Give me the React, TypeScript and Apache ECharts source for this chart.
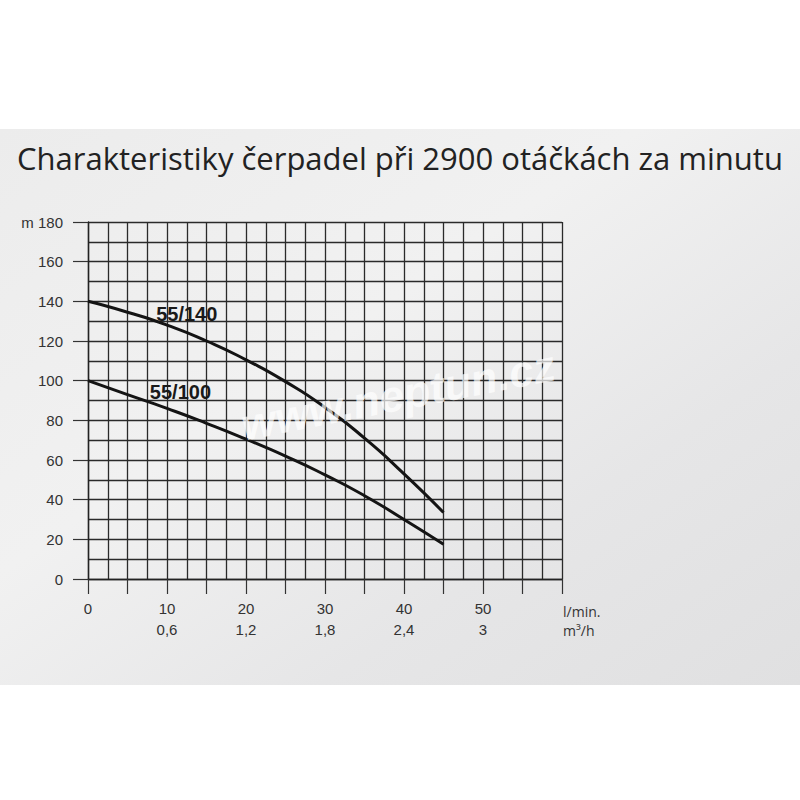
import React, { useEffect, useRef } from "react";
import * as echarts from "echarts";

const flowLmin = [0, 5, 10, 15, 20, 25, 30, 35, 40, 45];
const head140 = [140, 134.5, 128, 120, 110.5, 99.5, 86.5, 71, 53, 33.5];
const head100 = [100, 93, 86, 78.5, 70.5, 62, 52.5, 42, 30, 17.5];
const xTickLabels = ["0", "10", "20", "30", "40", "50"];
const m3hLabels = ["", "0,6", "1,2", "1,8", "2,4", "3"];
const yTickLabels = [0, 20, 40, 60, 80, 100, 120, 140, 160, 180];
const titleText = "Charakteristiky čerpadel při 2900 otáčkách za minutu";
const curveNames = ["55/140", "55/100"];
const labelPos140 = [12.5, 133.6];
const labelPos100 = [11.7, 94.3];

export default function App() {
  const ref = useRef<HTMLDivElement>(null);
  useEffect(() => {
    if (!ref.current) return;
    const chart = echarts.init(ref.current, null, { renderer: "svg" });
    const gridColor = "#2a2a2a";
    const labelFont = "Liberation Sans, Arial, sans-serif";
    const option: any = {
      animation: false,
      backgroundColor: "#ffffff",
      title: {
        text: titleText,
        left: "center",
        top: 137,
        textStyle: {
          fontFamily: "Open Sans",
          fontSize: 31,
          fontWeight: "normal",
          color: "#222222",
        },
      },
      graphic: [
        {
          type: "rect",
          z: -10,
          silent: true,
          shape: { x: 0, y: 129, width: 800, height: 556 },
          style: {
            fill: new echarts.graphic.LinearGradient(0, 0, 1, 1, [
              { offset: 0, color: "#ececec" },
              { offset: 0.4, color: "#f1f1f1" },
              { offset: 0.7, color: "#e6e6e7" },
              { offset: 1, color: "#e0e0e1" },
            ]),
          },
        },
        {
          type: "text",
          z: 100,
          silent: true,
          x: 398,
          y: 395,
          rotation: (11 * Math.PI) / 180,
          style: {
            text: "www.neptun.cz",
            fontSize: 44,
            fontWeight: "bold",
            fontStyle: "italic",
            fontFamily: "Liberation Sans, Arial, sans-serif",
            fill: "rgba(255,255,255,0.7)",
            align: "center",
            verticalAlign: "middle",
          },
        },
        {
          type: "text",
          x: 563,
          y: 611,
          style: {
            text: "l/min.",
            fontSize: 14,
            fontFamily: "Open Sans",
            fill: "#333333",
            align: "left",
            verticalAlign: "middle",
          },
        },
        {
          type: "text",
          x: 563,
          y: 630,
          style: {
            text: "m³/h",
            fontSize: 14,
            fontFamily: "Open Sans",
            fill: "#333333",
            align: "left",
            verticalAlign: "middle",
          },
        },
      ],
      grid: { left: 88, top: 222, width: 474, height: 357, containLabel: false },
      xAxis: [
        {
          type: "value",
          min: 0,
          max: 60,
          interval: 2.5,
          axisLine: { show: true, lineStyle: { color: "#222", width: 1.4 } },
          axisTick: { show: false },
          axisLabel: { show: false },
          splitLine: { show: true, lineStyle: { color: gridColor, width: 1.3 } },
        },
        {
          type: "value",
          min: 0,
          max: 60,
          interval: 5,
          position: "bottom",
          axisLine: { show: false },
          axisTick: { show: true, inside: false, length: 15, lineStyle: { color: "#333", width: 1.2 } },
          splitLine: { show: false },
          axisLabel: {
            margin: 19,
            fontFamily: labelFont,
            fontSize: 15,
            lineHeight: 21,
            color: "#333333",
            showMinLabel: true,
            showMaxLabel: true,
            formatter: (v: number) => {
              const i = xTickLabels.indexOf(String(v));
              if (i < 0) return "";
              return m3hLabels[i] ? `${xTickLabels[i]}\n${m3hLabels[i]}` : xTickLabels[i];
            },
          },
        },
      ],
      yAxis: [
        {
          type: "value",
          min: 0,
          max: 180,
          interval: 10,
          axisLine: { show: true, lineStyle: { color: "#222", width: 1.4 } },
          axisTick: { show: false },
          axisLabel: { show: false },
          splitLine: { show: true, lineStyle: { color: gridColor, width: 1.3 } },
        },
        {
          type: "value",
          min: 0,
          max: 180,
          interval: 20,
          position: "left",
          axisLine: { show: false },
          axisTick: { show: true, inside: false, length: 15, lineStyle: { color: "#333", width: 1.2 } },
          splitLine: { show: false },
          axisLabel: {
            margin: 25,
            fontFamily: labelFont,
            fontSize: 15,
            color: "#333333",
            formatter: (v: number) => {
              if (!yTickLabels.includes(v)) return "";
              return v === 180 ? `m ${v}` : String(v);
            },
          },
        },
      ],
      series: [
        {
          name: curveNames[0],
          type: "line",
          smooth: 0.6,
          symbol: "none",
          data: flowLmin.map((x, i) => [x, head140[i]]),
          lineStyle: { color: "#141414", width: 3 },
          z: 10,
          markPoint: {
            symbol: "circle",
            symbolSize: 0,
            data: [{ coord: labelPos140 }],
            label: {
              show: true,
              position: "inside",
              formatter: curveNames[0],
              fontFamily: labelFont,
              fontSize: 20,
              fontWeight: "bold",
              color: "#1a1a1a",
            },
          },
        },
        {
          name: curveNames[1],
          type: "line",
          smooth: 0.6,
          symbol: "none",
          data: flowLmin.map((x, i) => [x, head100[i]]),
          lineStyle: { color: "#141414", width: 3 },
          z: 10,
          markPoint: {
            symbol: "circle",
            symbolSize: 0,
            data: [{ coord: labelPos100 }],
            label: {
              show: true,
              position: "inside",
              formatter: curveNames[1],
              fontFamily: labelFont,
              fontSize: 20,
              fontWeight: "bold",
              color: "#1a1a1a",
            },
          },
        },
      ],
    };
    chart.setOption(option);
    return () => chart.dispose();
  }, []);
  return (
    <div
      ref={ref}
      style={{ position: "fixed", left: 0, top: 0, width: 800, height: 800 }}
    />
  );
}
